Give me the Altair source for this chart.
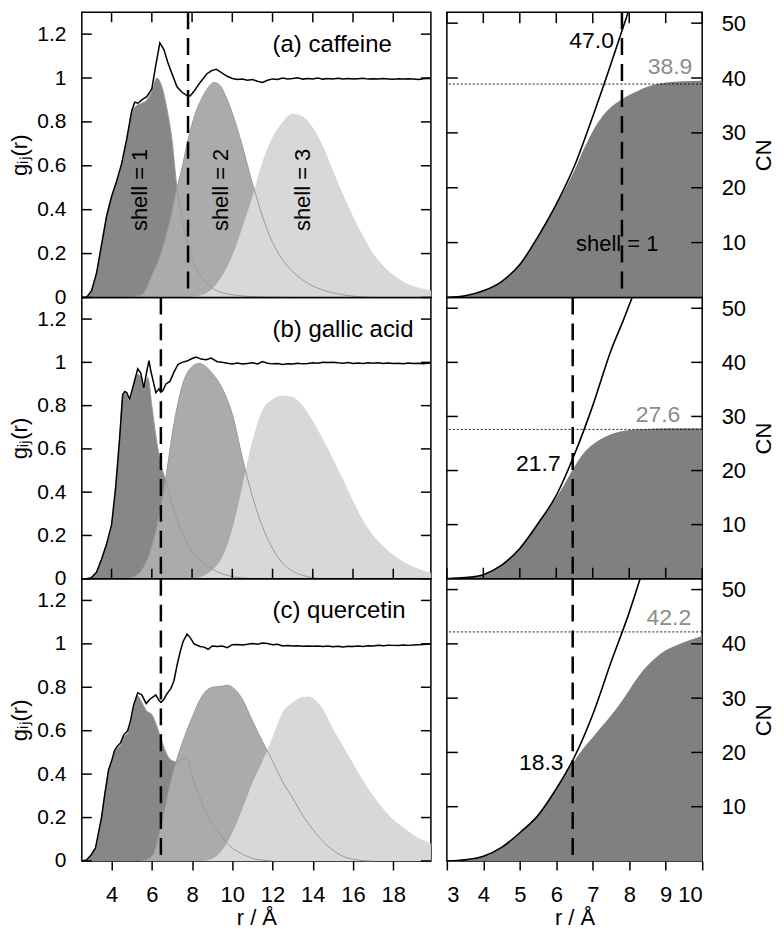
import altair as alt
import pandas as pd

FONT = "Liberation Sans"

# ---------------- data ----------------
# left panels: g_ij(r) total (black) and shell-resolved contributions
A_TOT = [(2.5, 0.0), (2.75, 0.0), (3.0, 0.03), (3.25, 0.11), (3.5, 0.24), (3.75, 0.37), (4.0, 0.46),
         (4.25, 0.53), (4.5, 0.61), (4.75, 0.72), (5.0, 0.85), (5.15, 0.89), (5.3, 0.885), (5.5, 0.9),
         (5.75, 0.915), (6.0, 0.95), (6.2, 1.06), (6.4, 1.16), (6.6, 1.13), (6.8, 1.07), (7.0, 1.02),
         (7.25, 0.96), (7.5, 0.935), (7.75, 0.92), (7.9, 0.918), (8.1, 0.94), (8.4, 0.98), (8.75, 1.02),
         (9.0, 1.035), (9.2, 1.04), (9.5, 1.022), (9.75, 1.008), (10.0, 0.998), (10.25, 0.993),
         (10.5, 0.995), (10.75, 0.99), (11.0, 0.993), (11.25, 0.985), (11.5, 0.98), (11.75, 0.99),
         (12.0, 0.996), (12.25, 0.993), (12.5, 1.0), (12.75, 0.996), (13.0, 0.998), (13.25, 1.001),
         (13.5, 0.995), (13.75, 0.998), (14.0, 0.996), (14.25, 1.0), (14.5, 0.995), (14.75, 0.998),
         (15.0, 0.996), (15.25, 0.999), (15.5, 0.996), (15.75, 0.998), (16.0, 0.995), (16.25, 0.997),
         (16.5, 0.999), (16.75, 0.995), (17.0, 0.997), (17.25, 0.995), (17.5, 0.998), (17.75, 0.996),
         (18.0, 0.994), (18.25, 0.997), (18.5, 0.995), (18.75, 0.997), (19.0, 0.995), (19.25, 0.993),
         (19.5, 0.997), (19.75, 0.999), (19.87, 0.996)]
A_S1 = [(2.5, 0.0), (2.75, 0.0), (3.0, 0.03), (3.25, 0.11), (3.5, 0.24), (3.75, 0.37), (4.0, 0.46),
        (4.25, 0.53), (4.5, 0.61), (4.75, 0.72), (5.0, 0.84), (5.25, 0.875), (5.5, 0.885), (5.75, 0.9),
        (6.0, 0.94), (6.25, 1.0), (6.5, 0.96), (6.75, 0.86), (7.0, 0.72), (7.25, 0.5), (7.5, 0.36),
        (7.75, 0.25), (8.0, 0.175), (8.25, 0.125), (8.5, 0.09), (8.75, 0.062), (9.0, 0.042), (9.5, 0.022),
        (10.0, 0.012), (10.5, 0.007), (11.0, 0.004), (12.0, 0.001), (13.0, 0.0)]
A_S2 = [(4.5, 0.0), (5.0, 0.003), (5.5, 0.012), (6.0, 0.1), (6.5, 0.215), (7.0, 0.39), (7.25, 0.5),
        (7.5, 0.59), (7.75, 0.7), (8.0, 0.79), (8.25, 0.86), (8.5, 0.91), (8.75, 0.95), (9.1, 0.98),
        (9.4, 0.965), (9.75, 0.9), (10.0, 0.84), (10.5, 0.69), (11.0, 0.52), (11.5, 0.37), (12.0, 0.25),
        (12.5, 0.172), (13.0, 0.118), (13.5, 0.08), (14.0, 0.052), (14.5, 0.034), (15.0, 0.021),
        (15.5, 0.012), (16.0, 0.006), (16.5, 0.002), (17.0, 0.0)]
A_S3 = [(7.5, 0.0), (8.0, 0.004), (8.5, 0.012), (9.0, 0.04), (9.5, 0.1), (10.0, 0.19), (10.5, 0.32),
        (11.0, 0.46), (11.5, 0.62), (12.0, 0.73), (12.5, 0.8), (13.0, 0.837), (13.5, 0.825), (14.0, 0.775),
        (14.5, 0.69), (15.0, 0.58), (15.5, 0.47), (16.0, 0.37), (16.5, 0.28), (17.0, 0.2), (17.5, 0.145),
        (18.0, 0.102), (18.5, 0.072), (19.0, 0.052), (19.5, 0.04), (19.87, 0.032)]

B_TOT = [(2.5, 0.0), (2.75, 0.0), (3.0, 0.005), (3.25, 0.03), (3.5, 0.09), (3.75, 0.16), (4.0, 0.25),
         (4.2, 0.42), (4.4, 0.65), (4.55, 0.85), (4.65, 0.865), (4.75, 0.86), (4.9, 0.83), (5.1, 0.9),
         (5.3, 0.97), (5.45, 0.95), (5.6, 0.88), (5.75, 0.96), (5.86, 1.008), (5.95, 0.96), (6.05, 0.92),
         (6.2, 0.86), (6.35, 0.878), (6.45, 0.862), (6.55, 0.87), (6.7, 0.9), (6.9, 0.912), (7.1, 0.955),
         (7.3, 0.99), (7.5, 1.0), (7.75, 1.006), (8.0, 1.018), (8.2, 1.024), (8.45, 1.015), (8.7, 1.012),
         (8.95, 1.02), (9.25, 1.003), (9.5, 1.0), (9.75, 0.996), (10.0, 0.993), (10.25, 0.997),
         (10.5, 0.992), (10.75, 0.995), (11.0, 0.998), (11.25, 0.993), (11.5, 1.004), (11.75, 0.996),
         (12.0, 0.993), (12.25, 0.995), (12.5, 0.99), (12.75, 0.994), (13.0, 0.992), (13.25, 0.996),
         (13.5, 0.993), (13.75, 0.995), (14.0, 0.998), (14.25, 0.996), (14.5, 1.0), (14.75, 0.999),
         (15.0, 1.001), (15.25, 0.998), (15.5, 0.996), (15.75, 0.999), (16.0, 0.995), (16.25, 0.997),
         (16.5, 0.995), (16.75, 0.998), (17.0, 0.996), (17.25, 0.998), (17.5, 0.995), (17.75, 0.997),
         (18.0, 0.995), (18.25, 0.996), (18.5, 0.994), (18.75, 0.997), (19.0, 0.995), (19.25, 0.996),
         (19.5, 0.994), (19.75, 0.997), (19.87, 0.996)]
B_S1 = [(2.5, 0.0), (2.75, 0.0), (3.0, 0.005), (3.25, 0.03), (3.5, 0.09), (3.75, 0.16), (4.0, 0.25),
        (4.2, 0.42), (4.4, 0.65), (4.55, 0.84), (4.65, 0.855), (4.75, 0.85), (4.9, 0.82), (5.1, 0.89),
        (5.3, 0.945), (5.45, 0.93), (5.6, 0.87), (5.8, 0.93), (6.0, 0.8), (6.2, 0.66), (6.45, 0.53),
        (6.7, 0.45), (7.0, 0.35), (7.25, 0.28), (7.5, 0.215), (7.75, 0.162), (8.0, 0.125), (8.5, 0.078),
        (9.0, 0.045), (9.5, 0.022), (10.0, 0.01), (10.5, 0.004), (11.0, 0.0)]
B_S2 = [(4.75, 0.0), (5.0, 0.005), (5.5, 0.04), (6.0, 0.15), (6.5, 0.36), (6.75, 0.5), (7.0, 0.66),
        (7.25, 0.79), (7.5, 0.89), (7.75, 0.95), (8.0, 0.98), (8.35, 0.995), (8.75, 0.975), (9.0, 0.95),
        (9.5, 0.88), (10.0, 0.76), (10.5, 0.56), (11.0, 0.38), (11.5, 0.24), (12.0, 0.14), (12.5, 0.072),
        (13.0, 0.035), (13.5, 0.015), (14.0, 0.005), (14.5, 0.0)]
B_S3 = [(8.0, 0.0), (8.5, 0.01), (9.0, 0.04), (9.5, 0.1), (10.0, 0.23), (10.5, 0.43), (11.0, 0.64),
        (11.5, 0.78), (12.0, 0.83), (12.5, 0.847), (13.0, 0.84), (13.5, 0.8), (14.0, 0.73), (14.5, 0.645),
        (15.0, 0.555), (15.5, 0.46), (16.0, 0.36), (16.5, 0.27), (17.0, 0.2), (17.5, 0.15), (18.0, 0.11),
        (18.5, 0.08), (19.0, 0.055), (19.5, 0.038), (19.87, 0.026)]

C_TOT = [(2.5, 0.0), (2.75, 0.005), (3.0, 0.03), (3.2, 0.06), (3.5, 0.2), (3.65, 0.3), (3.85, 0.42),
         (4.0, 0.46), (4.15, 0.51), (4.3, 0.53), (4.45, 0.545), (4.6, 0.58), (4.8, 0.6), (4.95, 0.65),
         (5.1, 0.72), (5.3, 0.775), (5.5, 0.765), (5.72, 0.725), (5.9, 0.745), (6.05, 0.755), (6.2, 0.765),
         (6.35, 0.74), (6.46, 0.73), (6.6, 0.745), (6.75, 0.77), (6.95, 0.795), (7.1, 0.83), (7.25, 0.9),
         (7.4, 0.96), (7.55, 1.01), (7.75, 1.045), (7.9, 1.03), (8.1, 1.0), (8.4, 0.988), (8.6, 0.985),
         (8.8, 0.975), (9.0, 0.99), (9.25, 0.988), (9.5, 0.99), (9.75, 0.982), (10.0, 0.996),
         (10.25, 0.997), (10.5, 0.995), (10.75, 0.998), (11.0, 1.002), (11.25, 0.998), (11.5, 1.004),
         (11.75, 1.002), (12.0, 0.996), (12.25, 0.998), (12.5, 0.99), (12.75, 0.992), (13.0, 0.99),
         (13.25, 0.991), (13.5, 0.989), (13.75, 0.99), (14.0, 0.989), (14.25, 0.99), (14.5, 0.988),
         (14.75, 0.99), (15.0, 0.987), (15.25, 0.989), (15.5, 0.986), (15.75, 0.989), (16.0, 0.988),
         (16.25, 0.99), (16.5, 0.988), (16.75, 0.991), (17.0, 0.99), (17.25, 0.993), (17.5, 0.991),
         (17.75, 0.994), (18.0, 0.993), (18.25, 0.992), (18.5, 0.995), (18.75, 0.993), (19.0, 0.995),
         (19.25, 0.996), (19.5, 0.997), (19.75, 0.999), (19.87, 1.0)]
C_S1 = [(2.5, 0.0), (2.75, 0.003), (3.0, 0.03), (3.2, 0.06), (3.5, 0.2), (3.65, 0.3), (3.85, 0.41),
        (4.0, 0.45), (4.15, 0.5), (4.3, 0.52), (4.45, 0.535), (4.6, 0.57), (4.8, 0.59), (4.95, 0.64),
        (5.1, 0.7), (5.3, 0.76), (5.5, 0.73), (5.75, 0.69), (6.0, 0.675), (6.25, 0.62), (6.5, 0.55),
        (6.75, 0.49), (7.0, 0.462), (7.25, 0.456), (7.5, 0.468), (7.7, 0.472), (7.9, 0.43), (8.1, 0.36),
        (8.4, 0.29), (8.75, 0.21), (9.0, 0.175), (9.25, 0.14), (9.5, 0.108), (9.75, 0.08), (10.0, 0.06),
        (10.5, 0.032), (11.0, 0.012), (11.5, 0.004), (12.0, 0.0)]
C_S2 = [(5.5, 0.0), (6.0, 0.02), (6.5, 0.18), (7.0, 0.39), (7.5, 0.54), (8.0, 0.66), (8.5, 0.76),
        (9.0, 0.8), (9.5, 0.805), (9.75, 0.81), (10.0, 0.8), (10.5, 0.745), (11.0, 0.645), (11.5, 0.55),
        (12.0, 0.46), (12.5, 0.365), (13.0, 0.29), (13.5, 0.21), (14.0, 0.145), (14.5, 0.09), (15.0, 0.05),
        (15.5, 0.022), (16.0, 0.008), (16.5, 0.002), (17.0, 0.0)]
C_S3 = [(8.5, 0.0), (9.0, 0.01), (9.5, 0.05), (10.0, 0.13), (10.5, 0.24), (11.0, 0.36), (11.5, 0.46),
        (12.0, 0.57), (12.5, 0.685), (13.0, 0.73), (13.5, 0.755), (13.8, 0.758), (14.0, 0.75), (14.5, 0.7),
        (15.0, 0.61), (15.5, 0.53), (16.0, 0.45), (16.5, 0.37), (17.0, 0.3), (17.5, 0.24), (18.0, 0.19),
        (18.5, 0.155), (19.0, 0.12), (19.5, 0.095), (19.87, 0.08)]

# right panels: running coordination number (total line up to where it leaves the frame, shell-1 fill)
RA_TOT = [(3.0, 0.0), (3.5, 0.3), (4.0, 1.2), (4.5, 2.9), (5.0, 6.0), (5.5, 11.1), (6.0, 17.0),
          (6.5, 24.0), (7.0, 33.0), (7.5, 42.6), (7.75, 47.6), (7.97, 52.0)]
RA_S1 = [(3.0, 0.0), (3.5, 0.3), (4.0, 1.2), (4.5, 2.9), (5.0, 6.0), (5.5, 11.0), (6.0, 16.9),
         (6.25, 19.9), (6.5, 23.2), (6.75, 27.0), (7.0, 30.3), (7.25, 32.9), (7.5, 34.7), (7.75, 35.9),
         (8.0, 36.9), (8.25, 37.7), (8.5, 38.4), (8.75, 38.9), (9.0, 39.2), (9.5, 39.4), (10.0, 39.5)]
RB_TOT = [(3.0, 0.0), (3.5, 0.2), (4.0, 0.75), (4.5, 2.5), (5.0, 5.6), (5.5, 10.2), (6.0, 15.4),
          (6.5, 23.0), (7.0, 32.0), (7.5, 42.2), (7.85, 48.0), (8.08, 52.0)]
RB_S1 = [(3.0, 0.0), (3.5, 0.2), (4.0, 0.75), (4.5, 2.5), (5.0, 5.6), (5.5, 10.1), (6.0, 15.0),
         (6.25, 17.8), (6.45, 20.2), (6.75, 23.2), (7.0, 24.8), (7.25, 25.9), (7.5, 26.7), (7.75, 27.2),
         (8.0, 27.5), (8.5, 27.7), (9.0, 27.8), (10.0, 27.8)]
RC_TOT = [(3.0, 0.0), (3.5, 0.2), (4.0, 0.85), (4.5, 2.5), (5.0, 5.2), (5.5, 8.4), (6.0, 13.3),
          (6.5, 19.2), (7.0, 27.0), (7.5, 36.6), (8.0, 45.8), (8.3, 52.0)]
RC_S1 = [(3.0, 0.0), (3.5, 0.2), (4.0, 0.85), (4.5, 2.5), (5.0, 5.2), (5.5, 8.4), (6.0, 13.2),
         (6.25, 16.0), (6.45, 18.0), (6.75, 20.8), (7.0, 22.8), (7.25, 24.8), (7.5, 26.8), (7.75, 29.0),
         (8.0, 31.5), (8.25, 34.0), (8.5, 36.0), (8.75, 37.6), (9.0, 38.8), (9.25, 39.6), (9.5, 40.3),
         (9.75, 40.9), (10.0, 41.5)]

PANEL_NAMES = ["(a) caffeine", "(b) gallic acid", "(c) quercetin"]
CUTOFF = [7.8, 6.45, 6.45]
CN_CUT = [47.0, 21.7, 18.3]
CN_CUT_POS = [(7.58, 46.8), (6.12, 21.2), (6.2, 18.1)]
CN_SHELL1 = [38.9, 27.6, 42.2]
CN_SHELL1_POS = [(9.73, 42.0), (9.4, 30.3), (9.7, 44.7)]
SHELL_NAMES = ["shell = 1", "shell = 2", "shell = 3"]
SHELL_R = [5.43, 9.42, 13.5]
SHELL_G = [0.49, 0.49, 0.49]
RIGHT_SHELL_POS = (7.67, 9.8)

LEFT_XTICKS = [4, 6, 8, 10, 12, 14, 16, 18]
LEFT_YTICKS = [0, 0.2, 0.4, 0.6, 0.8, 1.0, 1.2]
RIGHT_XTICKS = [3, 4, 5, 6, 7, 8, 9, 10]
RIGHT_YTICKS = [10, 20, 30, 40, 50]

# ---------------- styling ----------------
COL_S1, COL_S2, COL_S3 = "#878787", "#ababab", "#d8d8d8"
COL_THIN = "#9a9a9a"
COL_FILL = "#808080"
COL_GREYTXT = "#8c8c8c"
LW, RW = 350, 256
HEIGHTS = [286, 282, 283]
TIN = 10
TITLE_FS = 22


def pts(pairs):
    return pd.DataFrame(pairs, columns=["r", "v"])


def bottom_axis(values):
    return alt.Axis(values=values, title="r / Å", tickSize=9, tickWidth=1.5, tickColor="black",
                    labelFontSize=22, labelPadding=15, titlePadding=2, domain=False, grid=False)


def left_panel(i, tot, s1, s2, s3):
    h = HEIGHTS[i]
    xs = alt.Scale(domain=[2.52, 19.87], nice=False, zero=False)
    ys = alt.Scale(domain=[0, 1.3], nice=False, zero=False)
    xax = bottom_axis(LEFT_XTICKS) if i == 2 else None
    yax = alt.Axis(values=LEFT_YTICKS, format="~g", title="gᵢⱼ(r)", ticks=False, tickSize=0,
                   labelFontSize=21, labelPadding=16, titlePadding=5, domain=False, grid=False)
    X = alt.X("r:Q", scale=xs, axis=xax)
    Y = alt.Y("v:Q", scale=ys, axis=yax)
    layers = [
        alt.Chart(pts(s1)).mark_area(color=COL_S1, interpolate="monotone").encode(x=X, y=Y),
        alt.Chart(pts(s2)).mark_area(color=COL_S2, interpolate="monotone").encode(x=X, y=Y),
        alt.Chart(pts(s3)).mark_area(color=COL_S3, interpolate="monotone").encode(x=X, y=Y),
        alt.Chart(pts(s1)).mark_line(color=COL_THIN, strokeWidth=1, interpolate="monotone").encode(x=X, y=Y),
        alt.Chart(pts(s2)).mark_line(color=COL_THIN, strokeWidth=1, interpolate="monotone").encode(x=X, y=Y),
        alt.Chart(pts(tot)).mark_line(color="black", strokeWidth=1.5).encode(x=X, y=Y),
        alt.Chart(pd.DataFrame({"r": [CUTOFF[i]]})).mark_rule(
            color="black", strokeWidth=2.5, strokeDash=[17, 9]).encode(x=X),
        alt.Chart(pd.DataFrame({"r": [12.0], "v": [1.15], "t": [PANEL_NAMES[i]]})).mark_text(
            align="left", baseline="middle", fontSize=24).encode(x=X, y=Y, text="t:N"),
        alt.Chart(pd.DataFrame({"v": LEFT_YTICKS})).mark_rule(color="black", strokeWidth=1.5).encode(
            y=Y, x=alt.value(0), x2=alt.value(TIN)),
        alt.Chart(pd.DataFrame({"v": LEFT_YTICKS})).mark_rule(color="black", strokeWidth=1.5).encode(
            y=Y, x=alt.value(LW - TIN), x2=alt.value(LW)),
    ]
    if i == 0:
        layers.append(alt.Chart(pd.DataFrame({"r": SHELL_R, "v": SHELL_G, "t": SHELL_NAMES})).mark_text(
            angle=270, align="center", baseline="middle", fontSize=22).encode(x=X, y=Y, text="t:N"))
        layers.append(alt.Chart(pd.DataFrame({"r": LEFT_XTICKS})).mark_rule(
            color="black", strokeWidth=1.5).encode(x=X, y=alt.value(0), y2=alt.value(TIN)))
    if i == 1:
        layers.append(alt.Chart(pd.DataFrame({"r": LEFT_XTICKS})).mark_rule(
            color="black", strokeWidth=1.5).encode(x=X, y=alt.value(h - TIN), y2=alt.value(h)))
    return alt.layer(*layers).properties(width=LW, height=h)


def right_panel(i, tot, s1):
    h = HEIGHTS[i]
    xs = alt.Scale(domain=[3, 10], nice=False, zero=False)
    ys = alt.Scale(domain=[0, 52], nice=False, zero=False)
    xax = bottom_axis(RIGHT_XTICKS) if i == 2 else None
    yax = alt.Axis(orient="right", values=RIGHT_YTICKS, title="CN", ticks=False, tickSize=0,
                   labelFontSize=22, labelPadding=19, titlePadding=8, titleAngle=270,
                   titleBaseline="top", domain=False, grid=False)
    X = alt.X("r:Q", scale=xs, axis=xax)
    Y = alt.Y("v:Q", scale=ys, axis=yax)
    cr, cv = CN_CUT_POS[i]
    sr, sv = CN_SHELL1_POS[i]
    layers = [
        alt.Chart(pts(s1)).mark_area(color=COL_FILL, interpolate="monotone").encode(x=X, y=Y),
        alt.Chart(pts(tot)).mark_line(color="black", strokeWidth=1.6, interpolate="monotone",
                                      clip=True).encode(x=X, y=Y),
        alt.Chart(pd.DataFrame({"v": [CN_SHELL1[i]]})).mark_rule(
            color="black", strokeWidth=0.9, strokeDash=[2, 2]).encode(y=Y),
        alt.Chart(pd.DataFrame({"r": [CUTOFF[i]]})).mark_rule(
            color="black", strokeWidth=2.5, strokeDash=[17, 9]).encode(x=X),
        alt.Chart(pd.DataFrame({"r": [cr], "v": [cv], "t": [f"{CN_CUT[i]:.1f}"]})).mark_text(
            align="right", baseline="middle", fontSize=23, color="black").encode(x=X, y=Y, text="t:N"),
        alt.Chart(pd.DataFrame({"r": [sr], "v": [sv], "t": [f"{CN_SHELL1[i]:.1f}"]})).mark_text(
            align="right", baseline="middle", fontSize=23, color=COL_GREYTXT).encode(x=X, y=Y, text="t:N"),
        alt.Chart(pd.DataFrame({"v": RIGHT_YTICKS})).mark_rule(color="black", strokeWidth=1.5).encode(
            y=Y, x=alt.value(0), x2=alt.value(TIN + 1)),
        alt.Chart(pd.DataFrame({"v": RIGHT_YTICKS})).mark_rule(color="black", strokeWidth=1.5).encode(
            y=Y, x=alt.value(RW - TIN - 1), x2=alt.value(RW)),
    ]
    if i == 0:
        layers.append(alt.Chart(pd.DataFrame({"r": [RIGHT_SHELL_POS[0]], "v": [RIGHT_SHELL_POS[1]],
                                              "t": ["shell = 1"]})).mark_text(
            align="center", baseline="middle", fontSize=22).encode(x=X, y=Y, text="t:N"))
        layers.append(alt.Chart(pd.DataFrame({"r": RIGHT_XTICKS})).mark_rule(
            color="black", strokeWidth=1.5).encode(x=X, y=alt.value(0), y2=alt.value(TIN + 1)))
    if i == 1:
        layers.append(alt.Chart(pd.DataFrame({"r": RIGHT_XTICKS})).mark_rule(
            color="black", strokeWidth=1.5).encode(x=X, y=alt.value(h - TIN - 1), y2=alt.value(h)))
    return alt.layer(*layers).properties(width=RW, height=h)


panels = [
    left_panel(0, A_TOT, A_S1, A_S2, A_S3), right_panel(0, RA_TOT, RA_S1),
    left_panel(1, B_TOT, B_S1, B_S2, B_S3), right_panel(1, RB_TOT, RB_S1),
    left_panel(2, C_TOT, C_S1, C_S2, C_S3), right_panel(2, RC_TOT, RC_S1),
]

chart = alt.concat(
    *panels, columns=2, spacing={"row": 0, "column": 16}, bounds="flush",
    padding={"left": 0, "top": 1, "right": 0, "bottom": 0},
).configure_view(
    stroke="black", strokeWidth=1.5
).configure_axis(
    labelFont=FONT, titleFont=FONT, titleFontSize=TITLE_FS,
    labelColor="black", titleColor="black", titleFontWeight="normal"
).configure_text(font=FONT, color="black")

chart.save("out.html", embed_options={"renderer": "svg", "actions": False})
